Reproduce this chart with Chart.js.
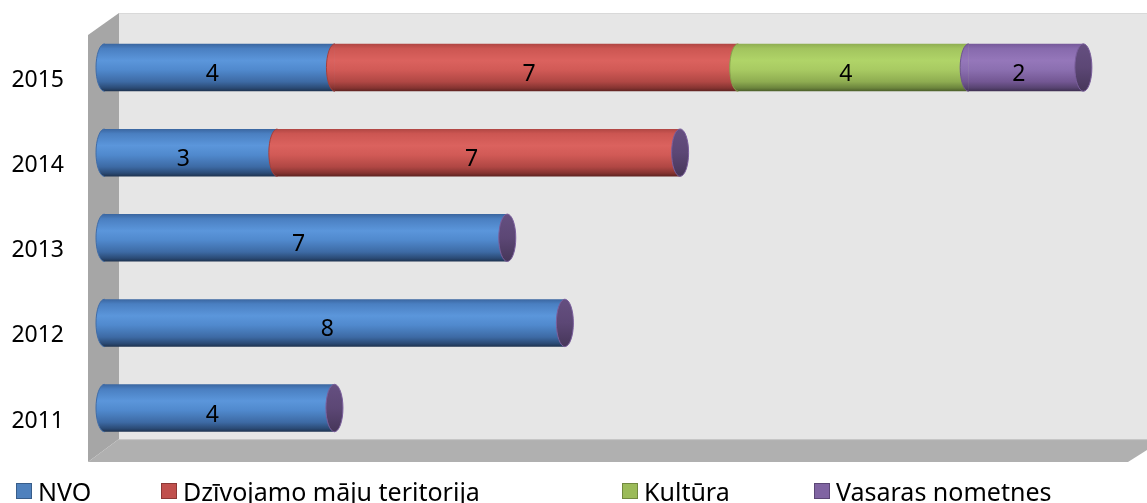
<!DOCTYPE html>
<html lang="lv">
<head>
  <meta charset="UTF-8">
  <meta name="viewport" content="width=device-width, initial-scale=1.0">
  <title>Projekti pa gadiem</title>
  <script src="https://cdn.jsdelivr.net/npm/chart.js"></script>
  <style>
    body { margin: 0; background: #fff; }
    .chart-box { position: relative; width: 1147px; height: 503px; }
    .legend {
      position: absolute; left: 0; top: 478px; width: 1147px; height: 26px;
      font-family: "Noto Sans", sans-serif; font-size: 25px; line-height: 26px; color: #000;
    }
    .legend-item { position: absolute; top: 0; display: flex; align-items: center; white-space: nowrap; }
    .legend-item .box { width: 14px; height: 14px; border: 1px solid; margin-right: 6px; }
  </style>
</head>
<body>
  <div class="chart-box">
    <canvas id="grafiks"></canvas>
    <div class="legend" id="legenda"></div>
  </div>

  <script>
    // dati
    const years = ['2015', '2014', '2013', '2012', '2011'];
    const nvo = [4, 3, 7, 8, 4];
    const dzivojamo = [7, 7, 0, 0, 0];
    const kultura = [4, 0, 0, 0, 0];
    const vasaras = [2, 0, 0, 0, 0];
    const seriesNames = ['NVO', 'Dzīvojamo māju teritorija', 'Kultūra', 'Vasaras nometnes'];
    const xMax = 18;

    const barPct = 0.557;
    const legendLeft = [16, 161, 622, 814];

    // cylinder shading, top to bottom
    const shades = [
      [[0, '#3A66A0'], [0.1, '#4A7FC1'], [0.35, '#5B96DB'], [0.55, '#5089CD'], [0.8, '#3D6AA4'], [0.93, '#2B4B76'], [1, '#1E3350']],
      [[0, '#B04643'], [0.1, '#CC5652'], [0.35, '#DB625E'], [0.55, '#D15A56'], [0.8, '#B04744'], [0.93, '#863431'], [1, '#5E2321']],
      [[0, '#8FAE52'], [0.1, '#A2C45E'], [0.35, '#B0D468'], [0.55, '#A8CA62'], [0.8, '#8EAC51'], [0.93, '#6C853D'], [1, '#4B5D2A']],
      [[0, '#76599A'], [0.1, '#876AAD'], [0.35, '#9577BA'], [0.55, '#8B6FB0'], [0.8, '#735793'], [0.93, '#574370'], [1, '#3D2F50']]
    ];
    const edges = ['#3F6CA8', '#A4403D', '#86A24C', '#6E5490'];
    const legendFill = ['#4F81BD', '#C0504D', '#9BBB59', '#8064A2'];
    const legendBorder = ['#385D8A', '#8C3836', '#71893F', '#5C4776'];
    const capShade = [[0, '#654F80'], [0.5, '#5C4775'], [1, '#463659']];

    function makeGradient(ctx, top, bottom, stops) {
      const g = ctx.createLinearGradient(0, top, 0, bottom);
      stops.forEach(s => g.addColorStop(s[0], s[1]));
      return g;
    }

    function cylinderFill(i) {
      return function (c) {
        const yScale = c.chart.scales.y;
        if (!yScale || c.dataIndex === undefined) return legendFill[i];
        const y = yScale.getPixelForValue(c.dataIndex);
        const half = yScale.height / years.length * barPct / 2;
        if (!isFinite(y) || !isFinite(half) || half <= 0) return legendFill[i];
        return makeGradient(c.chart.ctx, y - half, y + half, shades[i]);
      };
    }

    // grey walls behind the bars
    const walls = {
      id: 'walls',
      beforeDatasetsDraw(chart) {
        const ctx = chart.ctx;
        const a = chart.chartArea;
        const bx = a.left + 15, by = a.top - 12, fy = a.bottom - 11.5;
        const lx = a.left - 16, ly = a.bottom + 11.5;
        ctx.save();
        ctx.fillStyle = '#E6E6E6';
        ctx.fillRect(bx, by, chart.width - bx, fy - by);
        ctx.strokeStyle = '#D9D9D9';
        ctx.lineWidth = 1;
        ctx.beginPath();
        ctx.moveTo(bx, by + 0.5);
        ctx.lineTo(chart.width, by + 0.5);
        ctx.stroke();
        // left wall
        ctx.fillStyle = '#A6A6A6';
        ctx.beginPath();
        ctx.moveTo(lx, by + 22);
        ctx.lineTo(bx, by);
        ctx.lineTo(bx, fy);
        ctx.lineTo(lx, ly);
        ctx.closePath();
        ctx.fill();
        // floor
        ctx.fillStyle = '#B0B0B0';
        ctx.beginPath();
        ctx.moveTo(bx, fy);
        ctx.lineTo(chart.width, fy);
        ctx.lineTo(chart.width, fy + 11);
        ctx.lineTo(chart.width - 19, ly);
        ctx.lineTo(lx, ly);
        ctx.closePath();
        ctx.fill();
        ctx.strokeStyle = '#C8C8C8';
        ctx.beginPath();
        ctx.moveTo(bx, fy + 0.5);
        ctx.lineTo(chart.width, fy + 0.5);
        ctx.stroke();
        ctx.restore();
      }
    };

    // round caps, end faces and value labels
    const cylinders = {
      id: 'cylinders',
      afterDatasetsDraw(chart) {
        const ctx = chart.ctx;
        const rx = 8.5;
        const last = {};
        ctx.save();
        chart.data.datasets.forEach((ds, di) => {
          chart.getDatasetMeta(di).data.forEach((bar, i) => {
            if (!ds.data[i]) return;
            const p = bar.getProps(['x', 'y', 'base', 'height'], true);
            const ry = p.height / 2;
            if (!isFinite(p.y) || !(ry > 0)) return;
            ctx.fillStyle = makeGradient(ctx, p.y - ry, p.y + ry, shades[di]);
            ctx.beginPath();
            ctx.ellipse(p.base + 0.5, p.y, rx, ry, 0, Math.PI / 2, Math.PI * 1.5);
            ctx.closePath();
            ctx.fill();
            ctx.strokeStyle = edges[di];
            ctx.lineWidth = 1;
            ctx.beginPath();
            ctx.ellipse(p.base + 0.5, p.y, rx, ry, 0, Math.PI / 2, Math.PI * 1.5);
            ctx.stroke();
            last[i] = p;
          });
        });
        // end face of each stack
        Object.keys(last).forEach(k => {
          const p = last[k];
          const ry = p.height / 2;
          ctx.fillStyle = makeGradient(ctx, p.y - ry, p.y + ry, capShade);
          ctx.beginPath();
          ctx.ellipse(p.x, p.y, rx, ry, 0, 0, Math.PI * 2);
          ctx.fill();
          ctx.strokeStyle = '#7A5E9C';
          ctx.stroke();
        });
        // values
        ctx.fillStyle = '#000';
        ctx.font = '23px "Noto Sans"';
        ctx.textAlign = 'center';
        ctx.textBaseline = 'middle';
        chart.data.datasets.forEach((ds, di) => {
          chart.getDatasetMeta(di).data.forEach((bar, i) => {
            if (!ds.data[i]) return;
            const p = bar.getProps(['x', 'y', 'base'], true);
            ctx.fillText(ds.data[i], (p.base + p.x) / 2 - 7, p.y + 7);
          });
        });
        ctx.restore();
      }
    };

    const seriesValues = [nvo, dzivojamo, kultura, vasaras];

    const chart = new Chart(document.getElementById('grafiks'), {
      type: 'bar',
      data: {
        labels: years,
        datasets: seriesValues.map((vals, i) => ({
          label: seriesNames[i],
          data: vals,
          backgroundColor: cylinderFill(i),
          borderWidth: 0,
          barPercentage: barPct,
          categoryPercentage: 1
        }))
      },
      options: {
        indexAxis: 'y',
        responsive: true,
        maintainAspectRatio: false,
        animation: false,
        layout: { padding: { top: 25, bottom: 52.4, left: 0, right: 6 } },
        plugins: {
          legend: { display: false },
          tooltip: { enabled: false }
        },
        scales: {
          x: { display: false, stacked: true, min: 0, max: xMax },
          y: {
            stacked: true,
            grid: { display: false, drawTicks: false },
            border: { display: false },
            afterFit: (scale) => {
              scale.width = 104;
              scale.paddingTop = 0;
              scale.paddingBottom = 0;
            },
            ticks: {
              color: '#000',
              padding: 40,
              labelOffset: 13,
              font: { family: 'Noto Sans', size: 23 }
            }
          }
        }
      },
      plugins: [walls, cylinders]
    });

    // legenda
    const legenda = document.getElementById('legenda');
    chart.data.datasets.forEach((ds, i) => {
      const item = document.createElement('div');
      item.className = 'legend-item';
      item.style.left = legendLeft[i] + 'px';
      const box = document.createElement('span');
      box.className = 'box';
      box.style.background = legendFill[i];
      box.style.borderColor = legendBorder[i];
      item.appendChild(box);
      item.appendChild(document.createTextNode(ds.label));
      legenda.appendChild(item);
    });
  </script>
</body>
</html>
